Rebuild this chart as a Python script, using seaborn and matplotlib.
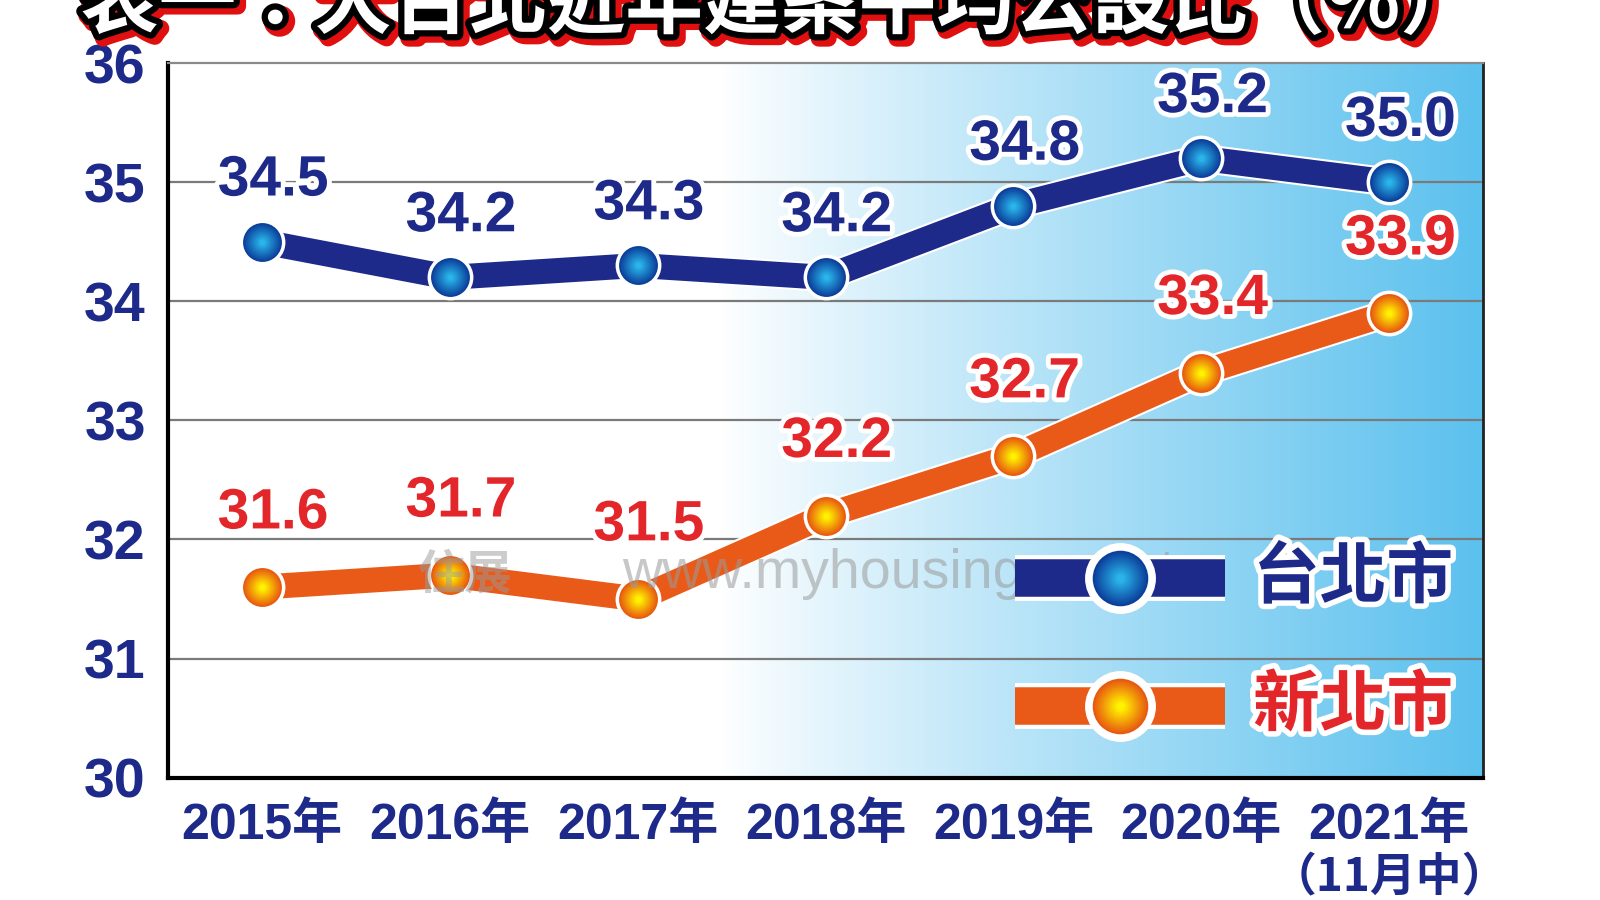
import numpy as np
import pandas as pd
import matplotlib
matplotlib.use("Agg")
import matplotlib.pyplot as plt
import matplotlib.patheffects as pe
from matplotlib.colors import LinearSegmentedColormap, to_rgb
import seaborn as sns

# ---------------- data ----------------
years = ["2015年", "2016年", "2017年", "2018年", "2019年", "2020年", "2021年"]
last_note = "（11月中）"
taipei = [34.5, 34.2, 34.3, 34.2, 34.8, 35.2, 35.0]
new_taipei = [31.6, 31.7, 31.5, 32.2, 32.7, 33.4, 33.9]
series_names = ["台北市", "新北市"]
title_text = "表一：大台北近年建案平均公設比（%）"
yticks = [30, 31, 32, 33, 34, 35, 36]
watermark = "www.myhousing.com.tw"

NAVY = "#1d2a8a"
RED = "#e2262a"
ORANGE = "#e95a19"

sns.set_theme(style="white")
LAT = ["Liberation Sans", "Noto Sans CJK TC", "DejaVu Sans"]
CJK = ["Noto Sans CJK TC", "DejaVu Sans"]
plt.rcParams["font.family"] = LAT

fig = plt.figure(figsize=(16, 9), dpi=100)
fig.patch.set_facecolor("white")
ax = fig.add_axes([0.105, 0.136, 0.822, 0.794])

x = np.arange(len(years)) + 0.5
df = pd.DataFrame({
    "x": np.concatenate([x, x]),
    "v": taipei + new_taipei,
    "s": [series_names[0]] * len(x) + [series_names[1]] * len(x),
})

# background gradient
grad = np.linspace(0, 1, 600)
g = np.clip((grad - 0.42) / 0.58, 0, 1) ** 0.9
cmap = LinearSegmentedColormap.from_list("bg", ["#ffffff", "#5cc1ee"])
ax.imshow(g[np.newaxis, :], aspect="auto", cmap=cmap, extent=[0, 1, 0, 1],
          transform=ax.transAxes, zorder=0, vmin=0, vmax=1)

sns.lineplot(data=df, x="x", y="v", hue="s", palette=[NAVY, ORANGE], ax=ax,
             linewidth=18, legend=False, zorder=3, sort=False)
for ln in ax.lines:
    ln.set_solid_capstyle("butt")
    ln.set_solid_joinstyle("miter")
    ln.set_path_effects([pe.Stroke(linewidth=21, foreground="white"), pe.Normal()])


def sphere(ax, xs, ys, outer, inner, size, ring=4, transform=None, z=5):
    kw = {} if transform is None else {"transform": transform}
    ax.plot(xs, ys, "o", ms=size + ring, color="white", mec="white", zorder=z, **kw)
    n = 12
    c0, c1 = np.array(to_rgb(outer)), np.array(to_rgb(inner))
    for k in range(n):
        t = k / (n - 1)
        col = c0 * (1 - t) + c1 * t
        s = size * (1 - 0.85 * t)
        ax.plot(xs, ys, "o", ms=s, color=col, mew=0, zorder=z + 0.01 * (k + 1), **kw)


sphere(ax, x, taipei, "#0b3f9a", "#2ab4ea", 28)
sphere(ax, x, new_taipei, "#e85a10", "#fff200", 28)

white_outline = [pe.withStroke(linewidth=7, foreground="white")]
for xi, v in zip(x, taipei):
    ax.annotate(f"{v:.1f}", (xi, v), xytext=(8, 44), textcoords="offset points",
                ha="center", va="center", fontsize=41, fontweight="bold",
                family=LAT, color=NAVY, path_effects=white_outline, zorder=8)
for xi, v in zip(x, new_taipei):
    ax.annotate(f"{v:.1f}", (xi, v), xytext=(8, 53), textcoords="offset points",
                ha="center", va="center", fontsize=41, fontweight="bold",
                family=LAT, color=RED, path_effects=white_outline, zorder=8)

# watermark
ax.text(0.345, 0.285, watermark, transform=ax.transAxes, fontsize=40,
        color="#9a9a9a", alpha=0.55, ha="left", va="center", zorder=6,
        family=["Liberation Sans", "DejaVu Sans"])
ax.text(0.19, 0.285, "住展", transform=ax.transAxes, fontsize=34,
        color="#9a9a9a", alpha=0.5, ha="left", va="center", zorder=6, family=CJK,
        fontweight="bold")

# custom legend
leg_rows = [(0.279, NAVY, "#0b3f9a", "#2ab4ea", NAVY), (0.100, ORANGE, "#e85a10", "#fff200", RED)]
for (yy, lc, o, i, tc), name in zip(leg_rows, series_names):
    ax.plot([0.644, 0.804], [yy, yy], transform=ax.transAxes, color=lc, lw=27,
            solid_capstyle="butt", zorder=9,
            path_effects=[pe.Stroke(linewidth=33, foreground="white"), pe.Normal()])
    sphere(ax, [0.724], [yy], o, i, 40, ring=10, transform=ax.transAxes, z=10)
    ax.text(0.825, yy, name, transform=ax.transAxes, fontsize=48, fontweight="bold",
            family=CJK, color=tc, ha="left", va="center", zorder=11,
            path_effects=[pe.withStroke(linewidth=8, foreground="white")])

# axes styling
ax.set_xlim(0, 7)
ax.set_ylim(30, 36)
ax.set_yticks(yticks)
ax.set_yticklabels([str(t) for t in yticks], fontsize=40, fontweight="bold",
                   color=NAVY, family=LAT)
ax.set_xticks(x)
ax.set_xticklabels(years, fontsize=36, fontweight="bold", color=NAVY, family=LAT)
ax.tick_params(axis="x", length=0, pad=18)
ax.tick_params(axis="y", length=0, pad=16)
ax.set_xticks(np.arange(1, 7), minor=True)
ax.tick_params(axis="x", which="minor", direction="in", length=16, width=2, color="black")
ax.set_xlabel("")
ax.set_ylabel("")
# note under the last year label
ax.annotate(last_note, (x[-1], 30), xytext=(0, -72), textcoords="offset points",
            ha="center", va="center", fontsize=33, fontweight="bold", color=NAVY,
            family=CJK, annotation_clip=False)
for yv in yticks[1:-1]:
    ax.axhline(yv, color="#7a7a7a", lw=1.6, zorder=1)
for side in ["left", "bottom"]:
    ax.spines[side].set_color("black")
    ax.spines[side].set_linewidth(3)
    ax.spines[side].set_visible(True)
ax.spines["right"].set_color("#222222")
ax.spines["right"].set_linewidth(2)
ax.spines["right"].set_visible(True)
ax.spines["top"].set_color("#8a8a8a")
ax.spines["top"].set_linewidth(1.6)
ax.spines["top"].set_visible(True)
ax.grid(False)

# title (cut off at top like the reference)
fig.text(0.487, 0.995, title_text, ha="center", va="center", fontsize=56,
         fontweight="black", color="white", family=CJK,
         path_effects=[pe.Stroke(linewidth=12, foreground="#e01010", offset=(3, -3)),
                       pe.Stroke(linewidth=9, foreground="black"), pe.Normal()])

fig.savefig("out.png", dpi=100)
